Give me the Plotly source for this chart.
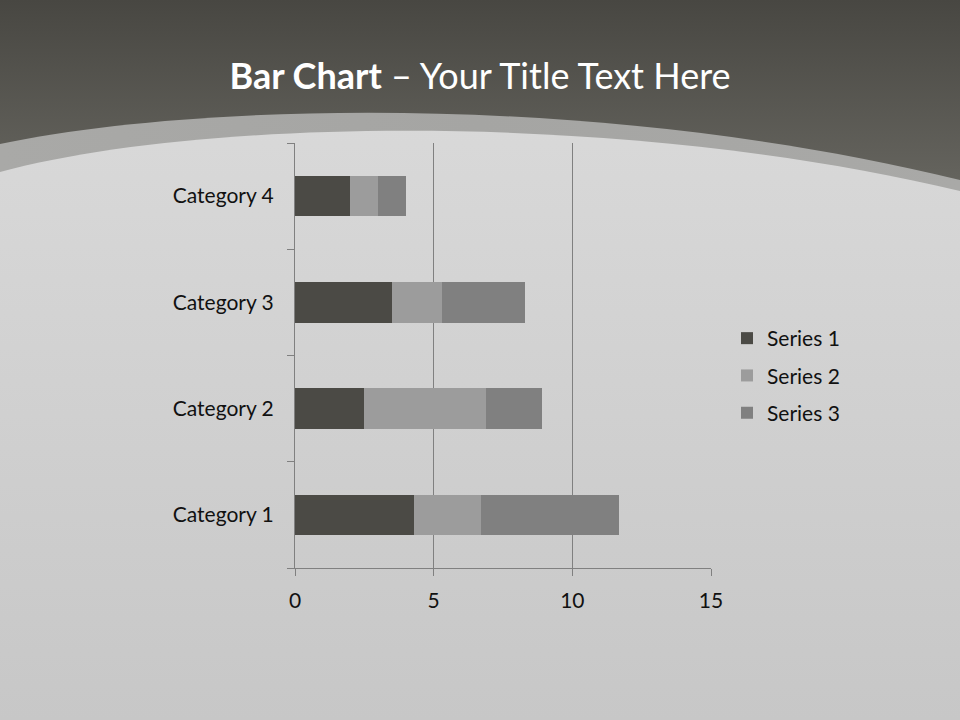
import base64
import plotly.graph_objects as go

# Chart data
categories = ["Category 1", "Category 2", "Category 3", "Category 4"]
series_1 = [4.3, 2.5, 3.5, 2.0]
series_2 = [2.4, 4.4, 1.8, 1.0]
series_3 = [5.0, 2.0, 3.0, 1.0]
series_names = ["Series 1", "Series 2", "Series 3"]
series_colors = ["#4b4a45", "#9c9c9c", "#808080"]
x_ticks = [0, 5, 10, 15]

W, H = 960, 720

# Slide background drawn as an svg (dark header, curved band, light body)
bg_svg = f"""<svg xmlns='http://www.w3.org/2000/svg' width='{W}' height='{H}' viewBox='0 0 {W} {H}'>
<defs>
<linearGradient id='top' gradientUnits='userSpaceOnUse' x1='0' y1='0' x2='0' y2='190'>
<stop offset='0' stop-color='#484742'/><stop offset='1' stop-color='#66655f'/></linearGradient>
<linearGradient id='body' gradientUnits='userSpaceOnUse' x1='0' y1='110' x2='0' y2='720'>
<stop offset='0' stop-color='#d9d9d9'/><stop offset='1' stop-color='#c7c7c7'/></linearGradient>
<linearGradient id='band' x1='0' y1='0' x2='1' y2='0'>
<stop offset='0' stop-color='#a9a9a7'/><stop offset='0.5' stop-color='#a5a5a3'/><stop offset='1' stop-color='#a9a9a7'/></linearGradient>
</defs>
<rect width='{W}' height='{H}' fill='url(#top)'/>
<path d='M0,144 C200,102 600,92 960,180 L960,{H} L0,{H} Z' fill='url(#band)'/>
<path d='M0,172 C200,118 620,110 960,191 L960,{H} L0,{H} Z' fill='url(#body)'/>
</svg>"""
bg_uri = "data:image/svg+xml;base64," + base64.b64encode(bg_svg.encode()).decode()

fig = go.Figure()
for name, vals, col in zip(series_names, [series_1, series_2, series_3], series_colors):
    fig.add_trace(go.Bar(
        y=categories,
        x=vals,
        name=name,
        legendgroup=name,
        orientation="h",
        marker=dict(color=col, line=dict(width=0)),
        width=0.38,
    ))

fig.add_layout_image(dict(
    source=bg_uri, xref="paper", yref="paper", x=0, y=1,
    sizex=1, sizey=1, sizing="stretch", layer="below",
    xanchor="left", yanchor="top",
))

fig.update_layout(
    width=W,
    height=H,
    autosize=False,
    barmode="stack",
    margin=dict(l=0, r=0, t=0, b=0),
    paper_bgcolor="#cfcfcf",
    plot_bgcolor="rgba(0,0,0,0)",
    font=dict(family="Lato", size=21, color="#111111"),
    title=dict(
        text="<b>Bar Chart</b> – Your Title Text Here",
        x=0.5, xanchor="center",
        y=1 - 76 / H, yanchor="middle",
        font=dict(family="Lato", size=36, color="white"),
    ),
    xaxis=dict(
        domain=[295 / W, 711 / W],
        range=[0, 15],
        tickvals=x_ticks,
        automargin=False,
        showgrid=True,
        gridcolor="#808080",
        gridwidth=1,
        showline=True,
        linecolor="#808080",
        ticks="outside",
        ticklen=7,
        tickcolor="#808080",
        ticklabelstandoff=7,
        zeroline=False,
        fixedrange=True,
    ),
    yaxis=dict(
        domain=[1 - 568 / H, 1 - 143 / H],
        automargin=False,
        showline=True,
        linecolor="#808080",
        ticks="outside",
        tickson="boundaries",
        ticklen=7,
        tickcolor="#808080",
        ticklabelstandoff=16,
        showgrid=False,
        fixedrange=True,
    ),
    legend=dict(
        x=727 / W, xanchor="left",
        y=1 - 318 / H, yanchor="top",
        bgcolor="rgba(0,0,0,0)",
        font=dict(size=21),
        itemwidth=30,
        tracegroupgap=7,
        traceorder="grouped",
    ),
)

fig.write_html(
    "out.html",
    config={"displayModeBar": False, "responsive": False},
    post_script="document.body.style.margin='0';document.body.style.overflow='hidden';",
)
